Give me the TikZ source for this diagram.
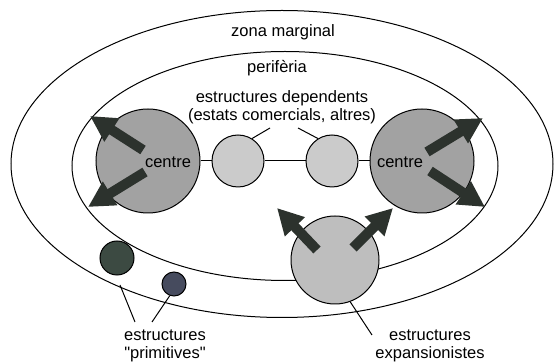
\documentclass[tikz,border=0pt]{standalone}
\usepackage{fontspec}
\setmainfont{Liberation Sans}
\usetikzlibrary{arrows.meta,shapes.geometric}
\definecolor{centregray}{HTML}{A2A2A2}
\definecolor{depgray}{HTML}{CBCBCB}
\definecolor{expgray}{HTML}{BEBEBE}
\definecolor{primgreen}{HTML}{3C4A42}
\definecolor{primblue}{HTML}{464B5E}
\definecolor{arrowdark}{HTML}{2C322D}

\begin{document}
\begin{tikzpicture}[x=1pt, y=-1pt, line width=1pt,
  zone/.style={draw, ellipse, inner sep=0pt},
  blob/.style={draw, circle, inner sep=0pt},
  push/.style={draw=arrowdark, line width=10pt,
    -{Triangle[length=26pt, width=26pt]}},
  lbl/.style={font=\fontsize{16.5}{18}\selectfont, align=center, inner sep=1pt}
]
  \useasboundingbox (0,0) rectangle (555,363);

  % zones
  \node[zone, minimum width=542pt, minimum height=307pt] (outer) at (282,164) {};
  \node[zone, minimum width=426pt, minimum height=229pt] (periph) at (285,166) {};

  % structures
  \node[blob, fill=centregray, minimum size=104pt] (centreL) at (148,161) {};
  \node[blob, fill=centregray, minimum size=104pt] (centreR) at (422,161) {};
  \node[blob, fill=depgray, minimum size=52pt] (depL) at (238,161) {};
  \node[blob, fill=depgray, minimum size=52pt] (depR) at (332,161) {};
  \node[blob, fill=expgray, minimum size=88pt] (expan) at (335,260) {};
  \node[blob, fill=primgreen, minimum size=34pt] (primA) at (117,258) {};
  \node[blob, fill=primblue, minimum size=24pt] (primB) at (174,284) {};

  \draw (centreL.east) -- (depL.west);
  \draw (depL.east) -- (depR.west);
  \draw (depR.east) -- (centreR.west);

  % expansion arrows
  \coordinate (aL1) at (143,150);  \coordinate (tL1) at (90,116);
  \coordinate (aL2) at (145,172);  \coordinate (tL2) at (88,207);
  \coordinate (aR1) at (427,152);  \coordinate (tR1) at (483,118);
  \coordinate (aR2) at (430,171);  \coordinate (tR2) at (485,207);
  \coordinate (aE1) at (317,250);  \coordinate (tE1) at (277,208);
  \coordinate (aE2) at (353,248);  \coordinate (tE2) at (393,208);
  \foreach \s/\t in {aL1/tL1, aL2/tL2, aR1/tR1, aR2/tR2, aE1/tE1, aE2/tE2}
    \draw[push] (\s) -- (\t);

  % labels
  \node[lbl] (lblMarg) at (283,32) {zona marginal};
  \node[lbl] (lblPer) at (277,68) {perifèria};
  \node[lbl] (lblDep) at (282,107) {estructures dependents\\(estats comercials, altres)};
  \node[lbl] (lblCentreL) at (168,162) {centre};
  \node[lbl] (lblCentreR) at (400,162) {centre};
  \node[lbl] (lblPrim) at (165,346) {estructures\\\textquotedbl primitives\textquotedbl};
  \node[lbl] (lblExp) at (430,346) {estructures\\expansionistes};

  % pointer lines
  \coordinate (pD1) at (270,128);
  \coordinate (pD2) at (298,128);
  \coordinate (pP0) at (120,285);
  \coordinate (pP1) at (135,322);
  \coordinate (pP2) at (152,322);
  \coordinate (pE1) at (372,335);
  \draw (depL.58) -- (pD1);
  \draw (depR.122) -- (pD2);
  \draw (pP0) -- (pP1);
  \draw (primB.250) -- (pP2);
  \draw (expan.290) -- (pE1);
\end{tikzpicture}
\end{document}
